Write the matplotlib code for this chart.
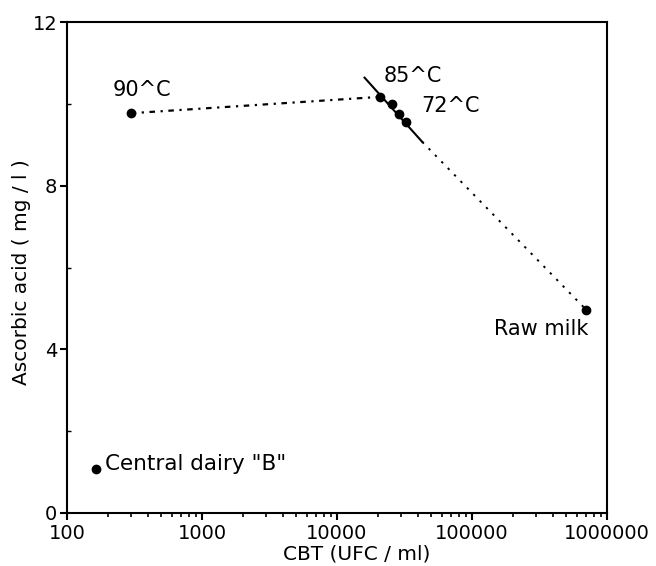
import matplotlib
matplotlib.use("Agg")
import matplotlib.pyplot as plt
from matplotlib.ticker import FixedLocator, FixedFormatter, LogLocator, NullFormatter

# data
dairy_x = [163]
dairy_y = [1.08]
p90_x = [296]
p90_y = [9.77]
cluster_x = [20700, 25600, 28700, 32600]
cluster_y = [10.17, 9.99, 9.76, 9.55]
raw_x = [700000]
raw_y = [4.97]
fit_x = [16000, 42800]
fit_y = [10.64, 9.07]
xticks = [100, 1000, 10000, 100000, 1000000]
xticklabels = ["100", "1000", "10000", "100000", "1000000"]
yticks = [0, 4, 8, 12]

plt.rcParams['font.family'] = ['DejaVu Sans']
fig = plt.figure(figsize=(6.56, 5.66), dpi=100)
ax = fig.add_axes([67/656, 1-513/566, (607-67)/656, (513-22)/566])
ax.set_xscale('log')
ax.set_xlim(100, 1000000)
ax.set_ylim(0, 12)

# dotted connections
ax.plot([p90_x[0], cluster_x[0]], [p90_y[0], cluster_y[0]], color='black',
        linestyle=(0, (2.5, 2.5, 1, 2.5)), linewidth=1.6)
ax.plot([fit_x[1], raw_x[0]], [fit_y[1], raw_y[0]], color='black',
        linestyle=(0, (1.2, 3.5)), linewidth=1.4)
# solid fit line
ax.plot(fit_x, fit_y, color='black', linewidth=1.5)

ms = 6
ax.plot(dairy_x, dairy_y, 'o', color='black', markersize=ms)
ax.plot(p90_x, p90_y, 'o', color='black', markersize=ms)
ax.plot(cluster_x, cluster_y, 'o', color='black', markersize=ms)
ax.plot(raw_x, raw_y, 'o', color='black', markersize=ms)

fs = 15
ax.annotate("90^C", xy=(p90_x[0], p90_y[0]), xytext=(-18, 23), textcoords='offset pixels',
            fontsize=fs, ha='left', va='center')
ax.annotate("85^C", xy=(cluster_x[0], cluster_y[0]), xytext=(4, 21), textcoords='offset pixels',
            fontsize=fs, ha='left', va='center')
ax.annotate("72^C", xy=(cluster_x[2], cluster_y[2]), xytext=(22, 8), textcoords='offset pixels',
            fontsize=fs, ha='left', va='center')
ax.annotate("Raw milk", xy=(raw_x[0], raw_y[0]), xytext=(2, -19), textcoords='offset pixels',
            fontsize=fs, ha='right', va='center')
ax.annotate('Central dairy "B"', xy=(dairy_x[0], dairy_y[0]), xytext=(9, 5), textcoords='offset pixels',
            fontsize=15.5, ha='left', va='center')

ax.xaxis.set_major_locator(FixedLocator(xticks))
ax.xaxis.set_major_formatter(FixedFormatter(xticklabels))
ax.xaxis.set_minor_locator(LogLocator(base=10, subs=range(2, 10)))
ax.xaxis.set_minor_formatter(NullFormatter())
ax.set_yticks(yticks)
ax.set_yticks([2, 6, 10], minor=True)

for s in ax.spines.values():
    s.set_linewidth(1.5)
ax.tick_params(axis='both', which='major', direction='out', length=5, width=1.5, labelsize=14, pad=3)
ax.tick_params(axis='x', which='minor', direction='out', length=3, width=1.2)
ax.tick_params(axis='y', which='minor', direction='in', length=3, width=1)
ax.tick_params(axis='y', which='major', pad=2)

ax.set_xlabel("CBT (UFC / ml)", fontsize=14.5)
ax.xaxis.set_label_coords((357-67)/540, -(545-513)/491, transform=ax.transAxes)
ax.xaxis.label.set_va('top')
ax.set_ylabel("Ascorbic acid ( mg / l )", fontsize=14.5)
ax.yaxis.set_label_coords(-(67-22)/540, (513-272)/491, transform=ax.transAxes)
ax.yaxis.label.set_va('center')

fig.savefig("out.png", dpi=100)
